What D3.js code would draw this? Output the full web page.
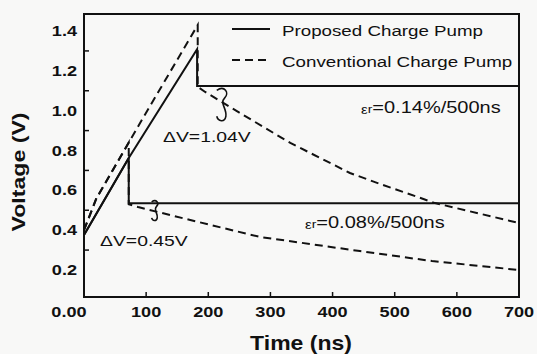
<!DOCTYPE html>
<html>
<head>
<meta charset="utf-8">
<script src="https://cdn.jsdelivr.net/npm/d3@7"></script>
<style>
  body { margin: 0; background: #f8f8f7; }
  svg { display: block; }
  text { font-family: "Liberation Sans", Arial, sans-serif; fill: #111; }
</style>
</head>
<body>
<svg id="chart" width="537" height="354"></svg>
<script>
// values (time in ns, voltage in V)
const xTicks = [0, 100, 200, 300, 400, 500, 600, 700];
const xTickLabels = ["0.00", "100", "200", "300", "400", "500", "600", "700"];
const yTicks = [0.2, 0.4, 0.6, 0.8, 1.0, 1.2, 1.4];
const yTickLabels = ["0.2", "0.4", "0.6", "0.8", "1.0", "1.2", "1.4"];
const yTickMarks = [0.3, 0.5, 0.7, 0.9, 1.1, 1.3];

// proposed charge pump (solid)
const proposedShort = [[0, 0.065], [0, 0.376], [72, 0.762], [72, 0.535], [700, 0.535]];
const proposedLong = [[0, 0.065], [0, 0.376], [72, 0.762], [182, 1.309], [182, 1.124], [700, 1.124]];

// conventional charge pump (dashed)
const conventionalShort = [[0, 0.40], [20, 0.56], [72, 0.84], [72, 0.53], [87, 0.516], [171, 0.451],
  [283, 0.366], [444, 0.295], [560, 0.245], [700, 0.20]];
const conventionalLong = [[0, 0.40], [20, 0.56], [93, 0.953], [183, 1.43], [183, 1.12], [195, 1.094],
  [250, 0.99], [332, 0.838], [428, 0.687], [481, 0.627], [565, 0.536], [700, 0.436]];

const legendItems = [
  { name: "Proposed Charge Pump", dash: null },
  { name: "Conventional Charge Pump", dash: "8,5" }
];

const svg = d3.select("#chart");
const plot = { left: 84, right: 519, top: 14, bottom: 297 };
const sx = 1.25; // the scan is stretched sideways

const x = d3.scaleLinear().domain([0, 700]).range([plot.left, plot.right]);
const y = d3.scaleLinear().domain([0.0644, 1.4854]).range([plot.bottom, plot.top]);

const label = (g, px, py, str, size, weight, anchor, stretch) => g.append("text")
  .attr("transform", `translate(${px},${py}) scale(${stretch || sx},1)`)
  .attr("text-anchor", anchor || "start")
  .style("font-size", size + "px")
  .style("font-weight", weight || "normal")
  .text(str);

// frame
svg.append("rect")
  .attr("x", plot.left).attr("y", plot.top)
  .attr("width", plot.right - plot.left).attr("height", plot.bottom - plot.top)
  .attr("fill", "none").attr("stroke", "#111").attr("stroke-width", 2);

// ticks, pointing inward
svg.selectAll(".xtick")
  .data(xTicks.slice(1, -1))
  .join("line")
  .attr("x1", d => x(d)).attr("x2", d => x(d))
  .attr("y1", plot.bottom).attr("y2", plot.bottom - 5)
  .attr("stroke", "#111").attr("stroke-width", 1.5);

svg.selectAll(".ytick")
  .data(yTickMarks)
  .join("line")
  .attr("x1", plot.left).attr("x2", plot.left + 5)
  .attr("y1", d => y(d)).attr("y2", d => y(d))
  .attr("stroke", "#111").attr("stroke-width", 1.5);

// tick labels
xTicks.forEach((t, i) => {
  const dx = i === 0 ? -15 : 0;
  label(svg, x(t) + dx, 317, xTickLabels[i], 14.5, "bold", "middle");
});
yTicks.forEach((t, i) => {
  label(svg, 77, y(t) + 5, yTickLabels[i], 14.5, "bold", "end");
});

// axis titles
label(svg, 301, 350, "Time (ns)", 20, "bold", "middle", 1.15);
svg.append("text")
  .attr("transform", `translate(25,172) rotate(-90) scale(1.25,1)`)
  .attr("text-anchor", "middle")
  .style("font-size", "18.5px").style("font-weight", "bold")
  .text("Voltage (V)");

// curves
const line = d3.line().x(d => x(d[0])).y(d => y(d[1]));
const series = [
  { pts: conventionalShort, dash: "8,5" },
  { pts: conventionalLong, dash: "8,5" },
  { pts: proposedShort, dash: null },
  { pts: proposedLong, dash: null }
];
svg.selectAll(".curve")
  .data(series)
  .join("path")
  .attr("class", "curve")
  .attr("d", d => line(d.pts))
  .attr("fill", "none")
  .attr("stroke", "#111")
  .attr("stroke-width", 2)
  .attr("stroke-dasharray", d => d.dash);

// legend
const lg = svg.append("g");
legendItems.forEach((it, i) => {
  const ly = 29 + i * 31;
  lg.append("line")
    .attr("x1", 232).attr("x2", 270)
    .attr("y1", ly).attr("y2", ly)
    .attr("stroke", "#111").attr("stroke-width", 2)
    .attr("stroke-dasharray", it.dash);
  label(lg, 282, ly + 7, it.name, 15);
});

// annotations
label(svg, 163, 142, "\u0394V=1.04V", 15.5);
label(svg, 100, 246, "\u0394V=0.45V", 15.5);

const eps = (px, py, val) => {
  const t = svg.append("text")
    .attr("transform", `translate(${px},${py}) scale(${sx},1)`)
    .style("font-size", "16px");
  t.append("tspan").style("font-size", "12px").attr("dy", 1).text("\u03b5");
  t.append("tspan").style("font-size", "11px").attr("dy", -1).text("r");
  t.append("tspan").text("=" + val);
};
eps(361, 113, "0.14%/500ns");
eps(305, 228, "0.08%/500ns");

// little hooks pointing at each pair of curves
const hook = (px, py, s) => svg.append("path")
  .attr("transform", `translate(${px},${py}) scale(${s})`)
  .attr("d", "M-4,-8 C2,-12 6,-6 2,-2 C-2,2 4,6 3,12 C2,17 -3,16 -4,12")
  .attr("fill", "none").attr("stroke", "#111").attr("stroke-width", 1.6 / s);
hook(x(222), y(1.05), 1.3);
hook(x(114), y(0.51), 0.8);
</script>
</body>
</html>
